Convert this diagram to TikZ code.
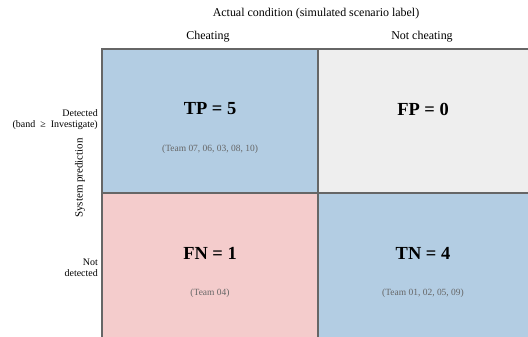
\documentclass[tikz,border=0pt]{standalone}
\usepackage{fontspec}
\setmainfont{Liberation Serif}
\definecolor{cellblue}{HTML}{B3CDE3}
\definecolor{cellpink}{HTML}{F4CCCC}
\definecolor{cellgrey}{HTML}{EEEEEE}
\definecolor{edge}{HTML}{666666}
\definecolor{teamgrey}{HTML}{666666}
\begin{document}
\begin{tikzpicture}[x=1bp,y=-1bp,
  cell/.style={draw=edge,line width=1.3bp},
  big/.style={font=\fontsize{18.5}{20}\selectfont\bfseries},
  team/.style={font=\fontsize{9.5}{11}\selectfont,text=teamgrey},
  head/.style={font=\fontsize{12}{14}\selectfont},
  side/.style={font=\fontsize{10}{11}\selectfont,align=right,anchor=east,inner sep=0pt}]
\useasboundingbox (0,0) rectangle (528,336);
\begin{scope}
\clip (0,0) rectangle (528,336);
\fill[white] (0,0) rectangle (528,336);
\filldraw[cell,fill=cellblue] (102,49) rectangle (318,193);
\filldraw[cell,fill=cellgrey] (318,49) rectangle (534,193);
\filldraw[cell,fill=cellpink] (102,193) rectangle (318,340);
\filldraw[cell,fill=cellblue] (318,193) rectangle (534,340);
\end{scope}
\node[head] (title) at (316,14) {Actual condition (simulated scenario label)};
\node[head] (cheat) at (208,37) {Cheating};
\node[head] (notcheat) at (422,37) {Not cheating};
\node[big] (tp) at (210,109) {TP = 5};
\node[team] (tpt) at (210,149) {(Team 07, 06, 03, 08, 10)};
\node[big] (fp) at (423,109) {FP = 0};
\node[big] (fn) at (210,253) {FN = 1};
\node[team] (fnt) at (210,293) {(Team 04)};
\node[big] (tn) at (423,253) {TN = 4};
\node[team] (tnt) at (423,293) {(Team 01, 02, 05, 09)};
\node[side] (det) at (98,119.5) {Detected\\(band\enspace≥\enspace Investigate)};
\node[side] (notdet) at (98,268) {Not\\detected};
\node[font=\fontsize{11}{13}\selectfont,rotate=90] (sys) at (80,178) {System prediction};
\end{tikzpicture}
\end{document}
